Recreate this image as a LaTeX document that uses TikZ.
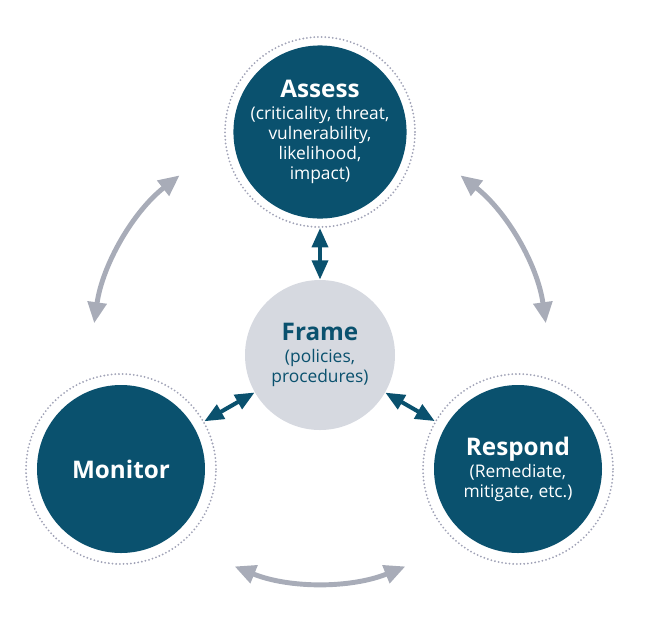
\documentclass[tikz,border=0pt]{standalone}
\usepackage{fontspec}
\setmainfont{Open Sans}
\usetikzlibrary{arrows.meta,positioning,calc}
\definecolor{riskblue}{RGB}{10,81,110}
\definecolor{framegray}{RGB}{214,217,224}
\definecolor{cyclegray}{RGB}{168,172,184}
\definecolor{dotgray}{RGB}{160,162,182}

\tikzset{
  phase/.style={circle,fill=riskblue,text=white,minimum size=3.36cm,inner sep=0pt,
    align=center,font=\fontsize{9.9}{11.5}\selectfont},
  core/.style={circle,fill=framegray,text=riskblue,minimum size=3cm,inner sep=0pt,
    align=center,font=\fontsize{9.9}{11.5}\selectfont},
  ring/.style={circle,draw=dotgray,line width=1.15pt,line cap=round,
    dash pattern=on 0pt off 2.1pt,minimum size=3.8cm,inner sep=0pt},
  link/.style={riskblue,line width=2.3pt,
    {Triangle[length=11pt,width=9pt]}-{Triangle[length=11pt,width=9pt]}},
  cycle/.style={cyclegray,line width=2.8pt,
    {Triangle[length=12pt,width=10.5pt]}-{Triangle[length=12pt,width=10.5pt]}}
}
\newcommand{\phasetitle}[1]{{\fontsize{13.8}{15}\selectfont\bfseries #1}}

\begin{document}
\begin{tikzpicture}[node distance=4cm,on grid]
   \useasboundingbox (-6.40,-5.24) rectangle (6.74,7.10);
   % centre and the three phases
   \node [core] (frame) {\phasetitle{Frame}\\[1pt](policies,\\procedures)};
   \node [phase] (assess) [above=4.46cm of frame]
      {\phasetitle{Assess}\\[1pt](criticality, threat,\\vulnerability,\\likelihood,\\impact)};
   \node [phase] (monitor) [below left=2.28cm and 3.98cm of frame] {\phasetitle{Monitor}};
   \node [phase] (respond) [below right=2.28cm and 3.96cm of frame]
      {\phasetitle{Respond}\\[1pt](Remediate,\\mitigate, etc.)};
   % dotted rings
   \node [ring] (assess_r) at (assess) {};
   \node [ring] (monitor_r) at (monitor) {};
   \node [ring] (respond_r) at (respond) {};
   % links to the frame
   \draw [link] (assess_r) -- (frame);
   \draw [link] (monitor_r) -- (frame);
   \draw [link] (respond_r) -- (frame);
   % outer cycle
   \draw [cycle] ($(frame)+(128:4.56cm)$) arc [start angle=128,end angle=172,radius=4.56cm];
   \draw [cycle] ($(frame)+(8:4.56cm)$) arc [start angle=8,end angle=52,radius=4.56cm];
   \draw [cycle] ($(frame)+(248:4.56cm)$) arc [start angle=248,end angle=292,radius=4.56cm];
\end{tikzpicture}
\end{document}
